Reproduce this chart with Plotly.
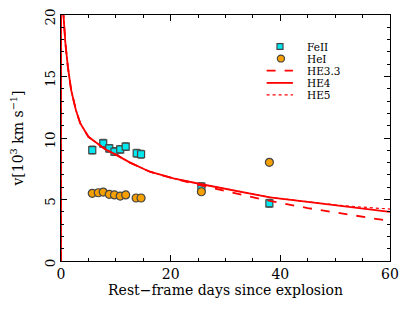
import plotly.graph_objects as go

# Observations
feii_days = [5.7, 7.7, 8.8, 9.75, 10.8, 11.8, 13.8, 14.6, 25.6, 38.0]
feii_vel = [9.02, 9.57, 9.16, 8.9, 9.08, 9.3, 8.76, 8.68, 6.04, 4.69]
feii_err = [0.3, 0.3, 0.3, 0.3, 0.3, 0.3, 0.3, 0.3, 0.3, 0.3]

hei_days = [5.7, 6.8, 7.7, 8.8, 9.75, 10.8, 11.8, 13.7, 14.6, 25.6, 38.0]
hei_vel = [5.5, 5.55, 5.6, 5.42, 5.37, 5.28, 5.37, 5.12, 5.12, 5.63, 8.02]
hei_err = [0.2, 0.2, 0.2, 0.2, 0.2, 0.2, 0.2, 0.2, 0.2, 0.2, 0.2]

# Model curves
he4_days = [0, 0, 0.45, 0.8, 1.25, 1.85, 2.7, 3.5, 5.0, 6.8, 8.0, 10, 12.6, 16.2, 20.5, 25.4, 30.8, 38.1, 45, 50, 55, 60]
he4_vel = [0, 30, 20.0, 17.7, 15.8, 13.9, 12.3, 11.2, 10.1, 9.5, 9.1, 8.65, 8.0, 7.26, 6.72, 6.26, 5.78, 5.18, 4.8, 4.52, 4.26, 4.0]

he33_days = [0, 0, 0.45, 0.8, 1.25, 1.85, 2.7, 3.5, 5.0, 6.8, 8.0, 10, 12.6, 16.2, 20.5, 25.4, 30.8, 38.1, 45, 50, 55, 60]
he33_vel = [0, 30, 20.0, 17.7, 15.8, 13.9, 12.3, 11.2, 10.1, 9.5, 9.1, 8.65, 8.0, 7.26, 6.7, 6.15, 5.6, 4.88, 4.3, 3.95, 3.6, 3.25]

he5_days = [0, 0, 0.45, 0.8, 1.25, 1.85, 2.7, 3.5, 5.0, 6.8, 8.0, 10, 12.6, 16.2, 20.5, 25.4, 30.8, 38.1, 45, 50, 55, 60]
he5_vel = [0, 30, 20.0, 17.7, 15.8, 13.9, 12.3, 11.2, 10.1, 9.5, 9.1, 8.65, 8.0, 7.26, 6.72, 6.26, 5.78, 5.18, 4.82, 4.56, 4.38, 4.22]

legend_labels = ["FeII", "HeI", "HE3.3", "HE4", "HE5"]

FONT = "DejaVu Serif"
RED = "#ff0000"
CYAN = "#00e8f0"
ORANGE = "#f5a000"
EDGE = "#444444"

fig = go.Figure()

fig.add_trace(go.Scatter(
    x=feii_days, y=feii_vel, mode="markers", name=legend_labels[0],
    error_y=dict(type="data", array=feii_err, color="#555555", thickness=1.5, width=3),
    marker=dict(symbol="square", size=7, color=CYAN, line=dict(color=EDGE, width=1.2)),
))
fig.add_trace(go.Scatter(
    x=hei_days, y=hei_vel, mode="markers", name=legend_labels[1],
    error_y=dict(type="data", array=hei_err, color="#555555", thickness=1.5, width=3),
    marker=dict(symbol="circle", size=8, color=ORANGE, line=dict(color=EDGE, width=1.2)),
))
fig.add_trace(go.Scatter(
    x=he33_days, y=he33_vel, mode="lines", name=legend_labels[2],
    line=dict(color=RED, width=1.8, dash="dash"),
))
fig.add_trace(go.Scatter(
    x=he4_days, y=he4_vel, mode="lines", name=legend_labels[3],
    line=dict(color=RED, width=1.8),
))
fig.add_trace(go.Scatter(
    x=he5_days, y=he5_vel, mode="lines", name=legend_labels[4],
    line=dict(color=RED, width=1.2, dash="dot"),
))

# Hand-built compact legend (paper coordinates)
leg_text_x = 0.745
leg_rows = [0.872, 0.823, 0.774, 0.724, 0.675]
annotations = []
for lab, yy in zip(legend_labels, leg_rows):
    annotations.append(dict(
        x=leg_text_x, y=yy, xref="paper", yref="paper", text=lab, showarrow=False,
        xanchor="left", yanchor="middle", height=11, borderpad=0,
        font=dict(family=FONT, size=10.5, color="black"),
    ))
shapes = [
    dict(type="rect", xref="paper", yref="paper", x0=0.6565, x1=0.6748, y0=0.860, y1=0.884,
         fillcolor=CYAN, line=dict(color=EDGE, width=1.2)),
    dict(type="circle", xref="paper", yref="paper", x0=0.6575, x1=0.6795, y0=0.809, y1=0.837,
         fillcolor=ORANGE, line=dict(color=EDGE, width=1.2)),
    dict(type="line", xref="paper", yref="paper", x0=0.625, x1=0.705, y0=leg_rows[2], y1=leg_rows[2],
         line=dict(color=RED, width=1.8, dash="dash")),
    dict(type="line", xref="paper", yref="paper", x0=0.625, x1=0.705, y0=leg_rows[3], y1=leg_rows[3],
         line=dict(color=RED, width=1.8)),
    dict(type="line", xref="paper", yref="paper", x0=0.625, x1=0.705, y0=leg_rows[4], y1=leg_rows[4],
         line=dict(color=RED, width=1.2, dash="dot")),
]

axis_common = dict(
    showline=True, linecolor="black", linewidth=1.2, mirror="ticks",
    ticks="inside", ticklen=6, tickcolor="black", tickwidth=1,
    showgrid=False, zeroline=False, automargin=False, ticklabeloverflow="allow",
)

fig.update_layout(
    width=407, height=303,
    margin=dict(l=53, r=25, t=7, b=50),
    paper_bgcolor="white", plot_bgcolor="white",
    font=dict(family=FONT, size=12, color="black"),
    showlegend=False,
    annotations=annotations,
    shapes=shapes,
    xaxis=dict(
        range=[0, 60], tickvals=[0, 20, 40, 60],
        tickfont=dict(family=FONT, size=14, color="black"),
        minor=dict(dtick=5, ticks="inside", ticklen=3, tickcolor="black"),
        title=dict(text="Rest\u2212frame days since explosion", font=dict(family=FONT, size=14), standoff=2),
        **axis_common,
    ),
    yaxis=dict(
        range=[0, 20], tickvals=[0, 5, 10, 15, 20], tickangle=-90, ticklabelshift=4,
        tickfont=dict(family=FONT, size=13.5, color="black"),
        minor=dict(dtick=1, ticks="inside", ticklen=3, tickcolor="black"),
        title=dict(text="v[10<sup>3</sup> km s<sup>\u22121</sup>]", font=dict(family=FONT, size=14), standoff=24),
        **axis_common,
    ),
)

fig.write_html("out.html")
